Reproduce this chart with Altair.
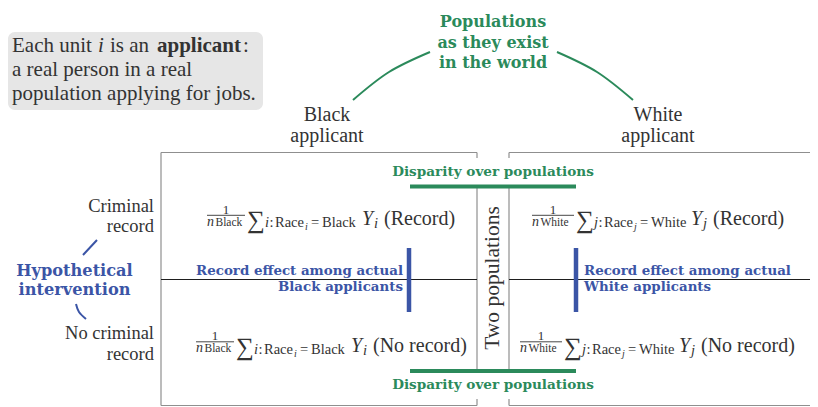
import altair as alt
import pandas as pd

# ---------------- content ----------------
NOTE_FIRST = ["Each unit", "i", "is an", "applicant", ":"]
NOTE_REST = ["a real person in a real", "population applying for jobs."]
WORLD = ["Populations", "as they exist", "in the world"]
GROUPS = ["Black", "White"]
INDEX = ["i", "j"]
HEAD_SUFFIX = "applicant"
ROWS = [["Criminal", "record"], ["No criminal", "record"]]
CONDITIONS = ["(Record)", "(No record)"]
DISPARITY = "Disparity over populations"
EFFECT = ["Record effect among actual", "Black applicants", "White applicants"]
INTERVENTION = ["Hypothetical", "intervention"]
MIDDLE = "Two populations"
RACE = "Race"

# ---------------- layout / style ----------------
M = 8
PW, PH = 802, 399          # drawing area in page pixels (page coords 8..810, 8..407)
INK = "#333333"
GREEN = "#2b8a5b"
BLUE = "#3b55a6"
FRAME = "#8f8f8f"
DARK = "#1e1e1e"
NOTE_BG = "#e6e6e6"
SERIF = "Liberation Serif"
BOLD = "DejaVu Serif"

xs = alt.Scale(domain=[M, M + PW], range=[0, PW], nice=False, zero=False)
ys = alt.Scale(domain=[M, M + PH], range=[0, PH], nice=False, zero=False)
X = alt.X("x:Q", scale=xs, axis=None)
Y = alt.Y("y:Q", scale=ys, axis=None)
RIGHT = 818

layers = []


def text_layer(rows, size, color=INK, font=SERIF, weight="normal", style="normal",
               align="left", angle=0):
    df = pd.DataFrame(rows, columns=["label", "x", "y"])
    return alt.Chart(df).mark_text(
        fontSize=size, font=font, fontWeight=weight, fontStyle=style,
        align=align, baseline="middle", color=color, angle=angle
    ).encode(x=X, y=Y, text="label:N")


def rule_layer(segs, color, width):
    df = pd.DataFrame(segs, columns=["x", "y", "x2", "y2"])
    return alt.Chart(df).mark_rule(color=color, strokeWidth=width).encode(
        x=X, y=Y, x2="x2:Q", y2="y2:Q")


def curve_layer(pts, color, width):
    df = pd.DataFrame(pts, columns=["id", "k", "x", "y"])
    return alt.Chart(df).mark_line(color=color, strokeWidth=width, interpolate="natural").encode(
        x=X, y=Y, detail="id:N", order="k:Q")


# note box
note_box = pd.DataFrame([{"x": 8, "x2": 263, "y": 32, "y2": 110}])
layers.append(alt.Chart(note_box).mark_rect(color=NOTE_BG, cornerRadius=7).encode(
    x=X, y=Y, x2="x2:Q", y2="y2:Q"))

# frames
layers.append(rule_layer([
    (161, 152.5, 477, 152.5), (477, 152.5, 477, 158), (161, 152.5, 161, 405.5),
    (161, 405.5, 477, 405.5), (477, 399, 477, 405.5),
    (509, 152.5, RIGHT, 152.5), (509, 152.5, 509, 158), (509, 399, 509, 405.5),
    (509, 405.5, RIGHT, 405.5),
    (477, 188, 477, 370), (509, 188, 509, 370)], FRAME, 1.2))
layers.append(rule_layer([(161, 279.5, 477, 279.5), (509, 279.5, RIGHT, 279.5)], DARK, 1.2))
layers.append(rule_layer([(410, 186.5, 576, 186.5), (410, 371, 576, 371)], GREEN, 4))
layers.append(rule_layer([(409, 248, 409, 312), (576, 248, 576, 312)], BLUE, 4.5))

# curves
layers.append(curve_layer([
    ("a", 0, 353, 100), ("a", 1, 389, 72), ("a", 2, 430, 52),
    ("b", 0, 557, 52), ("b", 1, 597, 72), ("b", 2, 633, 100)], GREEN, 2))
layers.append(curve_layer([
    ("a", 0, 97, 240), ("a", 1, 90, 247.5), ("a", 2, 83, 255),
    ("b", 0, 76, 304), ("b", 1, 79, 312), ("b", 2, 86, 319)], BLUE, 2))

# note text
layers.append(text_layer([(NOTE_FIRST[0], 12, 45.5), (NOTE_FIRST[2], 110, 45.5),
                          (NOTE_FIRST[4], 243, 45.5),
                          (NOTE_REST[0], 12, 70), (NOTE_REST[1], 12, 94)], 21))
layers.append(text_layer([(NOTE_FIRST[1], 98, 45.5)], 21, style="italic"))
layers.append(text_layer([(NOTE_FIRST[3], 157, 45.5)], 21, weight="bold"))

# column heads
layers.append(text_layer([(GROUPS[0], 327, 115), (HEAD_SUFFIX, 327, 136),
                          (GROUPS[1], 658, 115), (HEAD_SUFFIX, 658, 136)], 20, align="center"))
# row heads
layers.append(text_layer([(ROWS[0][0], 154, 205.5), (ROWS[0][1], 154, 226),
                          (ROWS[1][0], 154, 333), (ROWS[1][1], 154, 354)], 18.5, align="right"))

# green labels
layers.append(text_layer([(WORLD[0], 493, 22), (WORLD[1], 493, 43), (WORLD[2], 493, 63)],
                         16, color=GREEN, font=BOLD, weight="bold", align="center"))
layers.append(text_layer([(DISPARITY, 493, 172), (DISPARITY, 493, 385)],
                         13.6, color=GREEN, font=BOLD, weight="bold", align="center"))
# blue labels
layers.append(text_layer([(EFFECT[0], 403, 270.5), (EFFECT[1], 403, 287)],
                         13.4, color=BLUE, font=BOLD, weight="bold", align="right"))
layers.append(text_layer([(EFFECT[0], 584, 270.5), (EFFECT[2], 584, 287)],
                         13.4, color=BLUE, font=BOLD, weight="bold", align="left"))
layers.append(text_layer([(INTERVENTION[0], 74.5, 271), (INTERVENTION[1], 74.5, 290)],
                         16.2, color=BLUE, font=BOLD, weight="bold", align="center"))
# middle label
layers.append(text_layer([(MIDDLE, 493, 278)], 21.5, align="center", angle=270))

# formulas
formula_left = {(0, 0): 207, (1, 0): 532, (0, 1): 196, (1, 1): 520}
formula_y = {0: 219, 1: 345.5}
frac_w = {0: 38, 1: 42}

one_rows, n_rows, den_rows, sum_rows = [], [], [], []
sub_it, sub_rm, subsub, y_rows, ysub, cond_rows, bars = [], [], [], [], [], [], []
for (g, c), left in formula_left.items():
    y = formula_y[c]
    fw = frac_w[g]
    one_rows.append(("1", left + fw / 2, y - 9.5))
    bars.append((left, y - 3.7, left + fw, y - 3.7))
    n_rows.append(("n", left, y + 2.5))
    den_rows.append((GROUPS[g], left + 8.5, y + 3.5))
    sum_rows.append(("\u2211", left + fw + 2, y + 1))
    s = left + fw + 20
    sub_it.append((INDEX[g], s, y + 4))
    sub_rm.append((":", s + 4.5, y + 4))
    sub_rm.append((RACE, s + 10, y + 4))
    subsub.append((INDEX[g], s + 40, y + 8))
    sub_rm.append(("=", s + 46, y + 4))
    sub_rm.append((GROUPS[g], s + 57, y + 4))
    yx = left + fw + 117
    y_rows.append(("Y", yx, y))
    ysub.append((INDEX[g], yx + 12, y + 5))
    cond_rows.append((CONDITIONS[c], yx + 22, y))

layers.append(rule_layer(bars, INK, 0.9))
layers.append(text_layer(one_rows, 13, align="center"))
layers.append(text_layer(n_rows, 14, style="italic"))
layers.append(text_layer(den_rows, 11.5))
layers.append(text_layer(sum_rows, 25))
layers.append(text_layer(sub_it, 14.5, style="italic"))
layers.append(text_layer(sub_rm, 14.5))
layers.append(text_layer(subsub, 10, style="italic"))
layers.append(text_layer(y_rows, 20, style="italic"))
layers.append(text_layer(ysub, 14.5, style="italic"))
layers.append(text_layer(cond_rows, 20))

chart = alt.layer(*layers).properties(
    width=PW, height=PH, padding=0,
    autosize=alt.AutoSizeParams(type="none"), background="white"
).configure_view(strokeWidth=0)

chart.save("out.html", embed_options={"renderer": "svg", "actions": False})
